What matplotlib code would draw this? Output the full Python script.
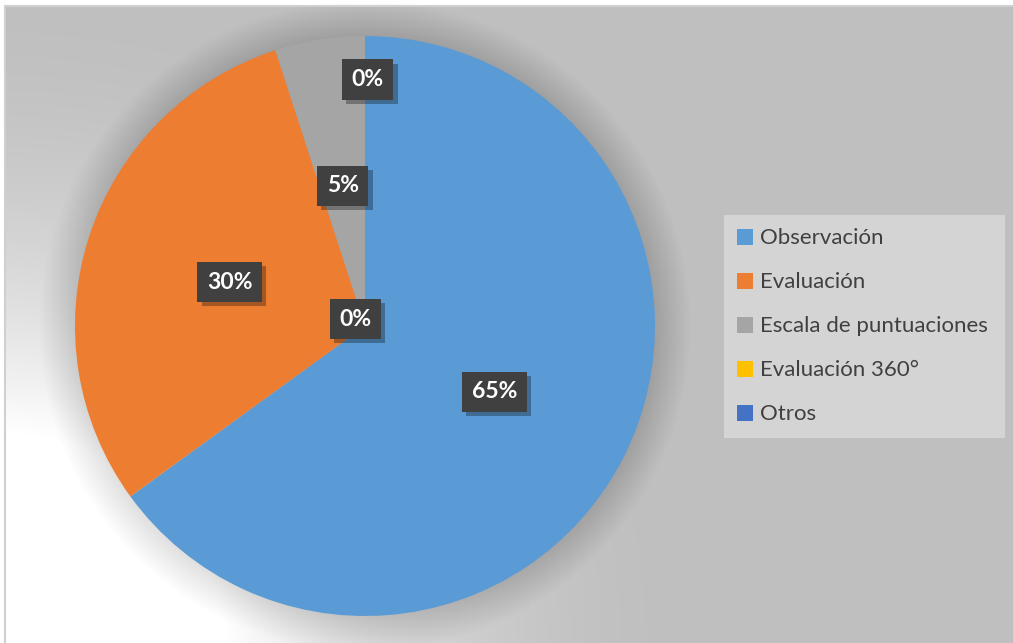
import matplotlib
matplotlib.use("Agg")
import matplotlib.pyplot as plt
import matplotlib.patheffects as pe
from matplotlib.patches import Circle, Rectangle, Patch
import numpy as np

plt.rcParams['font.family'] = ['Lato', 'DejaVu Sans']

# Data
categories = ['Observación', 'Evaluación', 'Escala de puntuaciones', 'Evaluación 360°', 'Otros']
values = [65, 30, 5, 0, 0]
colors = ['#5B9BD5', '#ED7D31', '#A5A5A5', '#FFC000', '#4472C4']
# radial position of each percentage label (fraction of radius) and nudge in points
label_dist = [0.50, 0.49, 0.49, 0.85, 0.0]
label_nudge = [(0, 0), (0, 0), (0, 0), (2, 0), (-7, 5)]

W, H = 1013, 643
fig = plt.figure(figsize=(W / 100, H / 100), dpi=100)
fig.patch.set_facecolor('white')

# chart area background: white glow in the lower-left corner fading into grey
bg = fig.add_axes([5 / W, 0, 1 - 5 / W, (H - 6) / H])
bg.set_axis_off()
xs = np.arange(5, W) + 0.5
ys = np.arange(6, H) + 0.5
X, Y = np.meshgrid(xs, ys)
d = np.hypot(X - 5, (H - Y) * 1.05)
t = np.clip((d - 220) / 480, 0, 1)
t = 1 - (1 - t) ** 2
grey = (255 - (255 - 191) * t) / 255
img = np.dstack([grey, grey, grey])
bg.imshow(img, extent=(0, 1, 0, 1), aspect='auto', origin='upper')
bg.set_xlim(0, 1)
bg.set_ylim(0, 1)
fig.patches.append(Rectangle((5 / W, -0.01), 1.0, (H - 6) / H + 0.01,
                             transform=fig.transFigure, fill=False,
                             edgecolor='#D0D0D0', linewidth=1.5, zorder=5))

# pie
ax = fig.add_axes([75 / W, 27 / H, 580 / W, 580 / H])
wedges, _ = ax.pie(values, colors=colors, startangle=90, counterclock=False,
                   radius=1, wedgeprops=dict(linewidth=0, zorder=3))
ax.set_xlim(-1, 1)
ax.set_ylim(-1, 1)
ax.set_aspect('equal')

# soft shadow around the pie
for k in range(32):
    ax.add_patch(Circle((0, 0), 1 + k * 0.004, facecolor='black', edgecolor='none',
                        alpha=0.0028, zorder=1, clip_on=False))

# percentage labels in dark boxes
total = sum(values)
for w, v, r, nd in zip(wedges, values, label_dist, label_nudge):
    mid = np.deg2rad((w.theta1 + w.theta2) / 2)
    x, y = r * np.cos(mid), r * np.sin(mid)
    txt = ax.annotate(f'{v / total * 100:.0f}%', (x, y), xytext=nd,
                      textcoords='offset points', ha='center', va='center',
                      color='white', fontsize=16.5, fontweight='bold', zorder=10,
                      bbox=dict(boxstyle='square,pad=0.42', facecolor='#404040',
                                edgecolor='none'))
    txt.get_bbox_patch().set_path_effects([
        pe.withSimplePatchShadow(offset=(3, -3), shadow_rgbFace='black', alpha=0.3),
        pe.Normal()])

# legend
handles = [Patch(facecolor=c, edgecolor='none') for c in colors]
leg = fig.legend(handles, categories, loc='center left', mode='expand',
                 bbox_to_anchor=(724 / W, (H - 439) / H, 281 / W, 225 / H),
                 frameon=True, fancybox=False, facecolor='#D4D4D4', edgecolor='none',
                 framealpha=1, fontsize=16, labelcolor='#404040',
                 handlelength=0.7, handleheight=0.7, handletextpad=0.3,
                 labelspacing=1.08, borderpad=0.6, borderaxespad=0)
leg.get_frame().set_linewidth(0)

fig.savefig('out.png', dpi=100, facecolor='white')
